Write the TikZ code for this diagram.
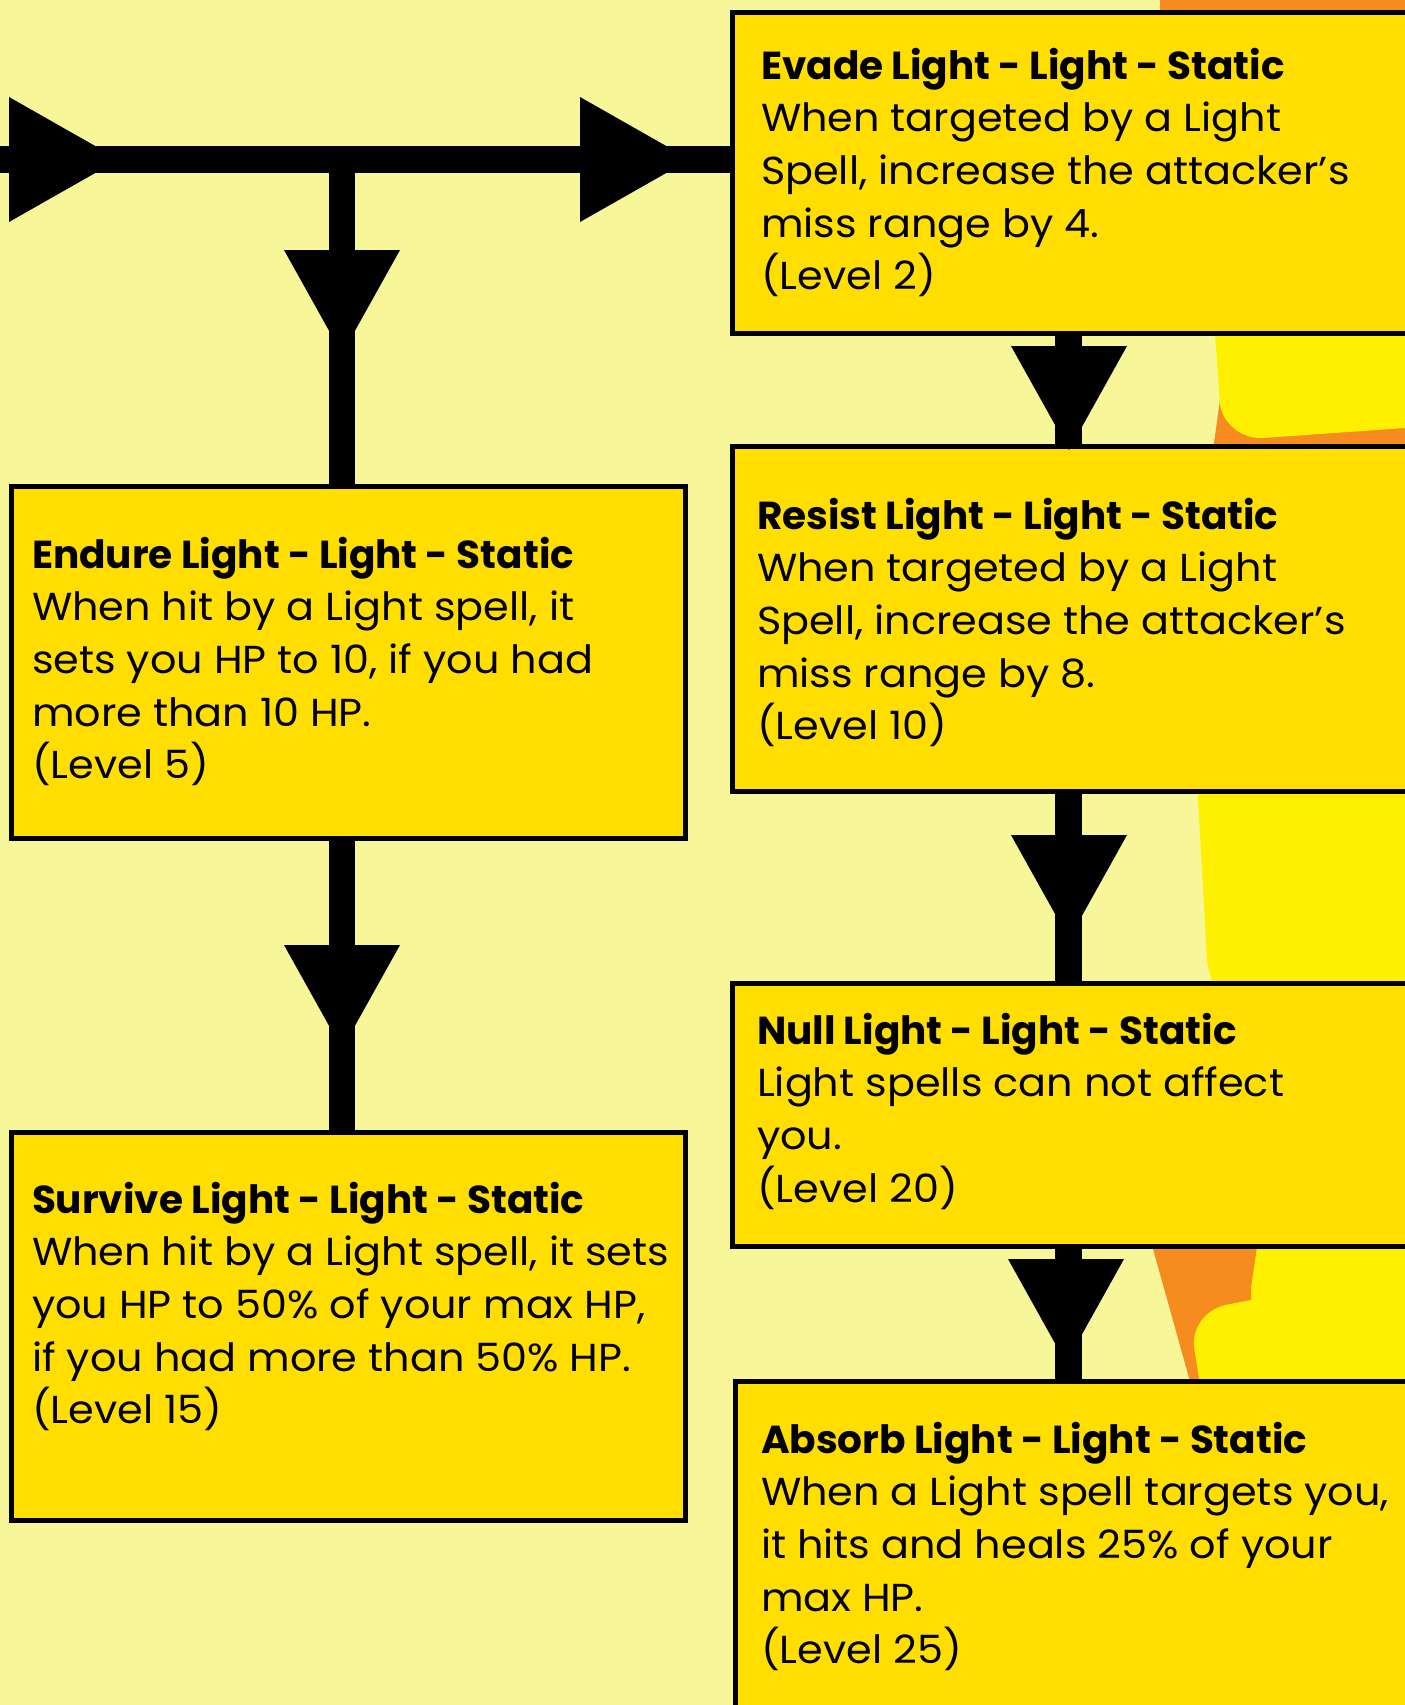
\documentclass[tikz,border=0pt]{standalone}
\usepackage{fontspec}
\setmainfont[FakeStretch=1.06,BoldFeatures={FakeStretch=1.0}]{Poppins}
\definecolor{paper}{HTML}{F7F799}
\definecolor{boxfill}{HTML}{FFDE00}
\definecolor{flame}{HTML}{F68B1F}
\definecolor{glow}{HTML}{FFF000}
\tikzset{
  x=1pt,y=-1pt,
  skillbox/.style={draw=black,fill=boxfill,line width=5pt,inner sep=0pt,outer sep=0pt,anchor=north west},
  skilltext/.style={anchor=north west,inner sep=0pt,outer sep=0pt,align=left,
    font=\fontsize{39}{52.6}\selectfont,text=black},
  link/.style={draw=black,line width=26.5pt},
}
\newcommand{\headright}[1]{\fill[black] (#1) ++(-87,-62.5) -- ++(110,62.5) -- ++(-110,62.5) -- cycle;}
\newcommand{\headdown}[1]{\fill[black] (#1) ++(-58,-81) -- ++(58,104) -- ++(58,-104) -- cycle;}
\begin{document}
\begin{tikzpicture}
\useasboundingbox (0,0) rectangle (1405,1705);
\fill[paper] (0,0) rectangle (1405,1705);

% flame shapes behind the right column
\fill[flame] (1160,0) -- (1405,0) -- (1405,40) -- (1160,40) -- cycle;
\fill[flame] (1220,400) -- (1405,400) -- (1405,450) -- (1213,450) -- cycle;
\fill[glow] (1214,320) -- (1220,405) .. controls (1224,425) and (1242,439) .. (1263,438) -- (1405,428) -- (1405,320) -- cycle;
\fill[glow] (1197,780) -- (1207,960) .. controls (1208,968) and (1210,975) .. (1215,990) -- (1405,990) -- (1405,780) -- cycle;
\fill[flame] (1150.5,1240) -- (1191,1385) -- (1405,1385) -- (1405,1240) -- cycle;
\fill[glow] (1258,1240) -- (1251,1288) -- (1251,1300) -- (1225,1305) .. controls (1205,1310) and (1192,1328) .. (1194,1347) -- (1200,1385) -- (1405,1385) -- (1405,1240) -- cycle;

% named anchors of the connector tree
\coordinate (entry) at (0,159.5);
\coordinate (branch) at (342,159.5);
\coordinate (rightcol) at (1068.3,0);

% skill boxes
\node[skillbox,minimum width=680pt,minimum height=321pt] (evade) at (732,12) {};
\node[skillbox,minimum width=680pt,minimum height=345pt] (resist) at (732,446.5) {};
\node[skillbox,minimum width=680pt,minimum height=263pt] (null) at (732,983.5) {};
\node[skillbox,minimum width=676pt,minimum height=350pt] (absorb) at (735,1381) {};
\node[skillbox,minimum width=674pt,minimum height=352pt] (endure) at (11,486.5) {};
\node[skillbox,minimum width=674pt,minimum height=388pt] (survive) at (11,1132) {};

% connectors
\draw[link] (entry) -- (evade.west |- entry);
\draw[link] (branch) -- (branch |- endure.north);
\draw[link] (branch |- endure.south) -- (branch |- survive.north);
\draw[link] (rightcol |- evade.south) -- (rightcol |- resist.north);
\draw[link] (rightcol |- resist.south) -- (rightcol |- null.north);
\draw[link] (rightcol |- null.south) -- (rightcol |- absorb.north);

% arrowheads
\headright{96,159.5}
\headright{667,159.5}
\headdown{342,331}
\headdown{342,1026}
\headdown{1069,427}
\headdown{1069,916}
\headdown{1066,1340}

% box texts
\node[skilltext] (evadetxt) at (761,48) {\textbf{Evade Light - Light - Static}\\When targeted by a Light\\Spell, increase the attacker’s\\miss range by 4.\\(Level 2)};
\node[skilltext] (resisttxt) at (757,498) {\textbf{Resist Light - Light - Static}\\When targeted by a Light\\Spell, increase the attacker’s\\miss range by 8.\\(Level 10)};
\node[skilltext] (nulltxt) at (757,1013) {\textbf{Null Light - Light - Static}\\Light spells can not affect\\you.\\(Level 20)};
\node[skilltext] (absorbtxt) at (761,1422) {\textbf{Absorb Light - Light - Static}\\When a Light spell targets you,\\it hits and heals 25\% of your\\max HP.\\(Level 25)};
\node[skilltext] (enduretxt) at (32,537) {\textbf{Endure Light - Light - Static}\\When hit by a Light spell, it\\sets you HP to 10, if you had\\more than 10 HP.\\(Level 5)};
\node[skilltext] (survivetxt) at (32,1182) {\textbf{Survive Light - Light - Static}\\When hit by a Light spell, it sets\\you HP to 50\% of your max HP,\\if you had more than 50\% HP.\\(Level 15)};
\end{tikzpicture}
\end{document}
